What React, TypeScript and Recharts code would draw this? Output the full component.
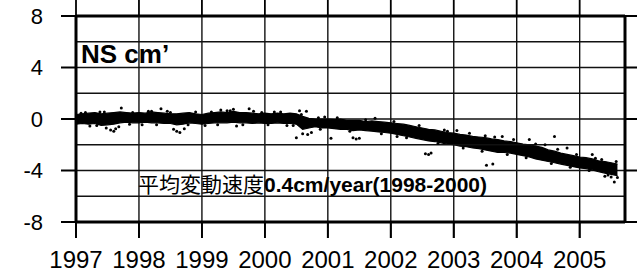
import React from 'react';
import { ComposedChart, Area, Scatter, XAxis, YAxis, CartesianGrid, ReferenceLine } from 'recharts';

// Dense daily solution band: envelope (decimal year, upper and lower edge, cm)
const bandYears = [
  1997.0, 1997.1, 1997.2, 1997.3, 1997.4, 1997.5, 1997.6, 1997.7, 1997.8, 1997.9,
  1998.0, 1998.1, 1998.2, 1998.3, 1998.4, 1998.5, 1998.6, 1998.7, 1998.8, 1998.9,
  1999.0, 1999.1, 1999.2, 1999.3, 1999.4, 1999.5, 1999.6, 1999.7, 1999.8, 1999.9,
  2000.0, 2000.1, 2000.2, 2000.3, 2000.4, 2000.5, 2000.6, 2000.7, 2000.8, 2000.9,
  2001.0, 2001.1, 2001.2, 2001.3, 2001.4, 2001.5, 2001.6, 2001.7, 2001.8, 2001.9,
  2002.0, 2002.1, 2002.2, 2002.3, 2002.4, 2002.5, 2002.6, 2002.7, 2002.8, 2002.9,
  2003.0, 2003.1, 2003.2, 2003.3, 2003.4, 2003.5, 2003.6, 2003.7, 2003.8, 2003.9,
  2004.0, 2004.1, 2004.2, 2004.3, 2004.4, 2004.5, 2004.6, 2004.7, 2004.8, 2004.9,
  2005.0, 2005.1, 2005.2, 2005.3, 2005.4, 2005.5, 2005.6,
];
const bandHigh = [
  0.35, 0.4, 0.45, 0.5, 0.4, 0.45, 0.5, 0.55, 0.5, 0.45,
  0.5, 0.45, 0.55, 0.5, 0.45, 0.4, 0.4, 0.45, 0.5, 0.4,
  0.35, 0.45, 0.5, 0.55, 0.5, 0.6, 0.5, 0.5, 0.45, 0.4,
  0.45, 0.4, 0.45, 0.4, 0.45, 0.4, 0.2, 0.05, 0.0, 0.0,
  0.0, -0.05, 0.0, -0.1, -0.1, -0.1, -0.2, -0.15, -0.2, -0.25,
  -0.3, -0.35, -0.4, -0.5, -0.6, -0.7, -0.8, -0.85, -0.95, -1.05,
  -1.1, -1.2, -1.25, -1.35, -1.4, -1.45, -1.55, -1.6, -1.7, -1.75,
  -1.85, -1.95, -2.0, -2.1, -2.2, -2.4, -2.5, -2.65, -2.75, -2.85,
  -2.95, -3.0, -3.1, -3.25, -3.3, -3.4, -3.5,
];
const bandLow = [
  -0.4, -0.35, -0.4, -0.35, -0.5, -0.45, -0.4, -0.3, -0.25, -0.3,
  -0.3, -0.25, -0.3, -0.3, -0.35, -0.35, -0.45, -0.4, -0.3, -0.35,
  -0.4, -0.35, -0.3, -0.3, -0.3, -0.25, -0.3, -0.3, -0.35, -0.3,
  -0.35, -0.35, -0.3, -0.35, -0.35, -0.4, -0.8, -0.7, -0.6, -0.7,
  -0.7, -0.75, -0.8, -0.8, -0.9, -0.85, -0.9, -0.95, -1.0, -1.05,
  -1.1, -1.2, -1.3, -1.4, -1.5, -1.6, -1.7, -1.75, -1.85, -1.95,
  -2.0, -2.1, -2.15, -2.25, -2.3, -2.4, -2.5, -2.6, -2.6, -2.65,
  -2.75, -2.85, -2.95, -3.1, -3.2, -3.3, -3.4, -3.5, -3.6, -3.7,
  -3.8, -3.85, -3.95, -4.1, -4.2, -4.3, -4.4,
];

// Individual solutions just outside the band edges (give the band its rough outline)
const edgeYears = [
  1997.15, 1997.33, 1997.45, 1997.85, 1998.15, 1998.28, 1998.5, 1998.78, 1999.15, 1999.25,
  1999.4, 1999.65, 1999.95, 2000.05, 2000.25, 2000.45, 2000.58, 2000.85, 2000.88, 2001.15,
  2001.35, 2001.6, 2001.85, 2002.05, 2002.25, 2002.45, 2002.75, 2002.85, 2003.15, 2003.25,
  2003.45, 2003.65, 2003.85, 2003.95, 2004.15, 2004.3, 2004.55, 2004.65, 2004.85, 2004.95,
  2005.15, 2005.25, 2005.45, 2005.35, 2005.58, 2005.6,
];
const edgeValues = [
  0.5, -0.5, 0.55, -0.4, 0.6, -0.45, 0.5, -0.45, 0.55, -0.45,
  0.65, -0.45, 0.5, -0.45, 0.55, -0.5, 0.35, 0.1, -0.8, 0.1,
  -0.95, -0.05, -1.15, -0.2, -1.45, -0.5, -1.9, -0.85, -2.25, -1.1,
  -2.5, -1.4, -2.75, -1.6, -3.0, -1.95, -3.45, -2.35, -3.75, -2.75,
  -4.0, -3.05, -4.35, -3.15, -3.3, -4.55,
];

// Scattered individual solutions well outside the band
const outlierYears = [
  1997.08, 1997.22, 1997.38, 1997.48, 1997.55, 1997.6, 1997.63, 1997.68, 1997.72, 1997.9,
  1998.05, 1998.2, 1998.35, 1998.45, 1998.55, 1998.6, 1998.65, 1998.72, 1998.9, 1999.05,
  1999.3, 1999.45, 1999.5, 1999.55, 1999.75, 1999.82, 2000.15, 2000.35, 2000.55, 2000.66,
  2000.5, 2000.6, 2000.68, 2000.74, 2000.95, 2001.05, 2001.4, 2001.45, 2001.5, 2001.75,
  2002.1, 2002.55, 2002.6, 2002.64, 2002.9, 2003.05, 2003.5, 2003.52, 2003.62, 2003.77,
  2004.2, 2004.45, 2004.6, 2004.8, 2005.2, 2005.4, 2005.5, 2005.55,
];
const outlierValues = [
  0.45, -0.55, 0.55, -0.7, -0.85, -0.95, -0.75, -0.6, 0.85, 0.5,
  -0.45, 0.6, 0.8, 0.6, -0.8, -0.95, -1.05, -0.75, 0.55, -0.5,
  0.7, 0.65, 0.75, -0.55, 0.8, 0.6, 0.55, -0.5, 0.65, 0.6,
  -1.45, -1.15, -1.2, -1.05, 0.15, -1.5, -1.45, -1.55, -1.5, 0.05,
  -1.35, -2.7, -2.75, -2.65, -0.95, -0.9, -1.3, -3.6, -3.5, -1.35,
  -1.6, -2.0, -1.35, -2.25, -2.75, -4.45, -4.5, -4.9,
];

const yearTicks = [1997, 1998, 1999, 2000, 2001, 2002, 2003, 2004, 2005];
const valueTicks = [-8, -4, 0, 4, 8];
const minorGridValues = [-6, -2, 2, 6];
const xMin = 1997;
const xMax = 2005.72;
const yMin = -8;
const yMax = 8;

const titleText = 'NS cm\u2019';
const noteJa = '平均変動速度';
const noteEn = '0.4cm/year(1998-2000)';

const bandData = bandYears.map((t, i) => ({ t, range: [bandLow[i], bandHigh[i]] }));
const dotData = [
  ...edgeYears.map((t, i) => ({ t, v: edgeValues[i] })),
  ...outlierYears.map((t, i) => ({ t, v: outlierValues[i] })),
];
// anchors of the frame's outside tick marks, placed on the frame through the scales
const frameMarks = [
  ...yearTicks.map((t) => ({ t, v: yMax, kind: 'up' })),
  ...yearTicks.map((t) => ({ t, v: yMin, kind: 'down' })),
  ...valueTicks.map((v) => ({ t: xMax, v, kind: 'right' })),
];

const FONT = '"Liberation Sans", Arial, Helvetica, sans-serif';

const Dot = (props: any) => <circle cx={props.cx} cy={props.cy} r={1.5} fill="#000" />;
const FrameMark = (props: any) => {
  const kind = props.payload && props.payload.kind;
  const { cx, cy } = props;
  if (kind === 'up') return <line x1={cx} x2={cx} y1={cy} y2={cy - 17} stroke="#000" strokeWidth={1.8} />;
  if (kind === 'down') return <line x1={cx} x2={cx} y1={cy} y2={cy + 16} stroke="#000" strokeWidth={1.8} />;
  return <line x1={cx} x2={cx + 13} y1={cy} y2={cy} stroke="#000" strokeWidth={2} />;
};

export default function App() {
  return (
    <div style={{ position: 'absolute', left: 0, top: 0, width: 637, height: 278, background: '#fff' }}>
      <ComposedChart
        width={637}
        height={278}
        data={bandData}
        margin={{ top: 16, right: 12, bottom: 0, left: 0 }}
      >
        <CartesianGrid stroke="#111" strokeWidth={1.4} />
        {minorGridValues.map((v) => (
          <ReferenceLine key={'g' + v} y={v} stroke="#111" strokeWidth={1.4} />
        ))}
        <XAxis
          dataKey="t"
          type="number"
          domain={[xMin, xMax]}
          ticks={yearTicks}
          height={56}
          tickSize={16}
          tickMargin={13}
          axisLine={{ stroke: '#000', strokeWidth: 3 }}
          tickLine={{ stroke: '#000', strokeWidth: 1.8 }}
          tick={{ fill: '#000', fontSize: 24, fontFamily: FONT }}
          interval={0}
        />
        <YAxis
          type="number"
          domain={[yMin, yMax]}
          ticks={valueTicks}
          width={76}
          tickSize={15}
          tickMargin={18}
          axisLine={{ stroke: '#000', strokeWidth: 3 }}
          tickLine={{ stroke: '#000', strokeWidth: 2 }}
          tick={{ fill: '#000', fontSize: 22, fontFamily: FONT }}
          interval={0}
        />
        <ReferenceLine y={yMax} stroke="#000" strokeWidth={3} />
        <ReferenceLine x={xMax} stroke="#000" strokeWidth={3} />
        <Scatter data={frameMarks} dataKey="v" shape={FrameMark} isAnimationActive={false} />
        <Area
          type="linear"
          dataKey="range"
          stroke="#000"
          strokeWidth={1.2}
          fill="#000"
          fillOpacity={1}
          isAnimationActive={false}
          dot={false}
          activeDot={false}
        />
        <Scatter data={dotData} dataKey="v" shape={Dot} isAnimationActive={false} />
      </ComposedChart>
      <div
        style={{
          position: 'absolute',
          left: 81,
          top: 41,
          fontFamily: FONT,
          fontWeight: 'bold',
          fontSize: 26,
          lineHeight: '26px',
          color: '#000',
          whiteSpace: 'nowrap',
          pointerEvents: 'none',
        }}
      >
        {titleText}
      </div>
      <div
        style={{
          position: 'absolute',
          left: 138,
          top: 173,
          fontFamily: FONT,
          fontSize: 21,
          lineHeight: '21px',
          color: '#000',
          whiteSpace: 'nowrap',
          pointerEvents: 'none',
        }}
      >
        <span style={{ fontFamily: '"Noto Sans CJK JP", sans-serif' }}>{noteJa}</span>
        <span style={{ fontWeight: 'bold' }}>{noteEn}</span>
      </div>
    </div>
  );
}
